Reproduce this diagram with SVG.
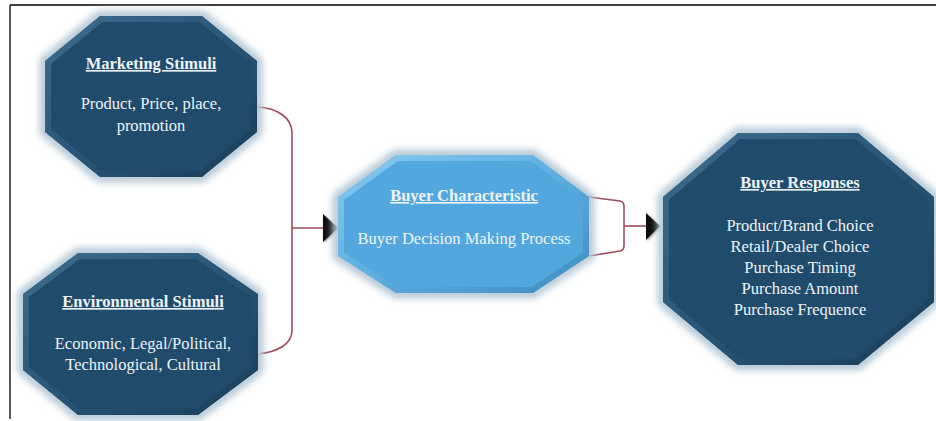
<svg xmlns="http://www.w3.org/2000/svg" xmlns:xlink="http://www.w3.org/1999/xlink" width="936" height="421" viewBox="0 0 936 421">
<style>
.t{font-family:"Liberation Serif","Times New Roman",serif;font-size:16.5px;fill:#EEF3F7;text-anchor:middle}
.h{font-weight:bold;text-decoration:underline}
.glow{fill:none;stroke:#B7C9D6;stroke-width:11;stroke-linejoin:round;filter:url(#blur)}
.dark{fill:#1F4B6C;stroke:url(#bevD);stroke-width:12}
.light{fill:#52A7DE;stroke:url(#bevL);stroke-width:12}
.con{fill:none;stroke:#9E4B5C;stroke-width:1.6;stroke-linejoin:round}
.arr{fill:#111;filter:url(#sh)}
.frame{stroke:#000;stroke-width:1.3;fill:none}
</style>
<defs>
<filter id="blur" x="-20%" y="-20%" width="140%" height="140%"><feGaussianBlur stdDeviation="3.5"/></filter>
<filter id="sh" x="-50%" y="-50%" width="200%" height="200%"><feDropShadow dx="1" dy="1" stdDeviation="1.2" flood-color="#555" flood-opacity="0.6"/></filter>
<linearGradient id="bevD" x1="0" y1="0" x2="1" y2="1">
<stop offset="0" stop-color="#3D6D8F"/><stop offset="0.5" stop-color="#285678"/><stop offset="1" stop-color="#183D58"/>
</linearGradient>
<linearGradient id="bevL" x1="0" y1="0" x2="1" y2="1">
<stop offset="0" stop-color="#8ACBF1"/><stop offset="0.5" stop-color="#5EAEE0"/><stop offset="1" stop-color="#3F8BC0"/>
</linearGradient>
<polygon id="pM" points="100,16 202,16 257,61 257,132 202,177 100,177 45,132 45,61"/>
<polygon id="pE" points="78,253 198,253 258,294 258,370 198,415 78,415 23,370 23,294"/>
<polygon id="pB" points="396,155 533,155 589,197 589,256 533,293 396,293 338,256 338,197"/>
<polygon id="pR" points="738,133 858,133 934,197 934,302 858,365 738,365 663,302 663,197"/>
<clipPath id="cM"><use xlink:href="#pM"/></clipPath>
<clipPath id="cE"><use xlink:href="#pE"/></clipPath>
<clipPath id="cB"><use xlink:href="#pB"/></clipPath>
<clipPath id="cR"><use xlink:href="#pR"/></clipPath>
</defs>
<rect width="936" height="421" fill="#fff"/>
<path class="frame" d="M10,5 H936 M10,5 V419"/>

<g id="connectors">
<path class="con" d="M257,107 C278,108 292,118 292,133 L292,330 C292,344 278,352 258,354"/>
<path class="con" d="M292,228 H325"/>
<polygon class="arr" points="323,214 338,228 323,242"/>
<path class="con" d="M589,197 L620,201 Q624,202 624,206 L624,246 Q624,250 620,251 L589,256"/>
<path class="con" d="M624,226 H648"/>
<polygon class="arr" points="646,213 660,226 646,240"/>
</g>

<g id="marketing">
<use xlink:href="#pM" class="glow"/>
<use xlink:href="#pM" class="dark" clip-path="url(#cM)"/>
<text class="t h" x="151" y="69">Marketing Stimuli</text>
<text class="t" x="151" y="109">Product, Price, place,</text>
<text class="t" x="151" y="131">promotion</text>
</g>

<g id="environmental">
<use xlink:href="#pE" class="glow"/>
<use xlink:href="#pE" class="dark" clip-path="url(#cE)"/>
<text class="t h" x="143" y="307">Environmental Stimuli</text>
<text class="t" x="143" y="349">Economic, Legal/Political,</text>
<text class="t" x="143" y="370">Technological, Cultural</text>
</g>

<g id="buyer-characteristic">
<use xlink:href="#pB" class="glow"/>
<use xlink:href="#pB" class="light" clip-path="url(#cB)"/>
<text class="t h" x="464" y="201">Buyer Characteristic</text>
<text class="t" x="464" y="244">Buyer Decision Making Process</text>
</g>

<g id="buyer-responses">
<use xlink:href="#pR" class="glow"/>
<use xlink:href="#pR" class="dark" clip-path="url(#cR)"/>
<text class="t h" x="800" y="188">Buyer Responses</text>
<text class="t" x="800" y="231">Product/Brand Choice</text>
<text class="t" x="800" y="252">Retail/Dealer Choice</text>
<text class="t" x="800" y="273">Purchase Timing</text>
<text class="t" x="800" y="294">Purchase Amount</text>
<text class="t" x="800" y="315">Purchase Frequence</text>
</g>
</svg>
